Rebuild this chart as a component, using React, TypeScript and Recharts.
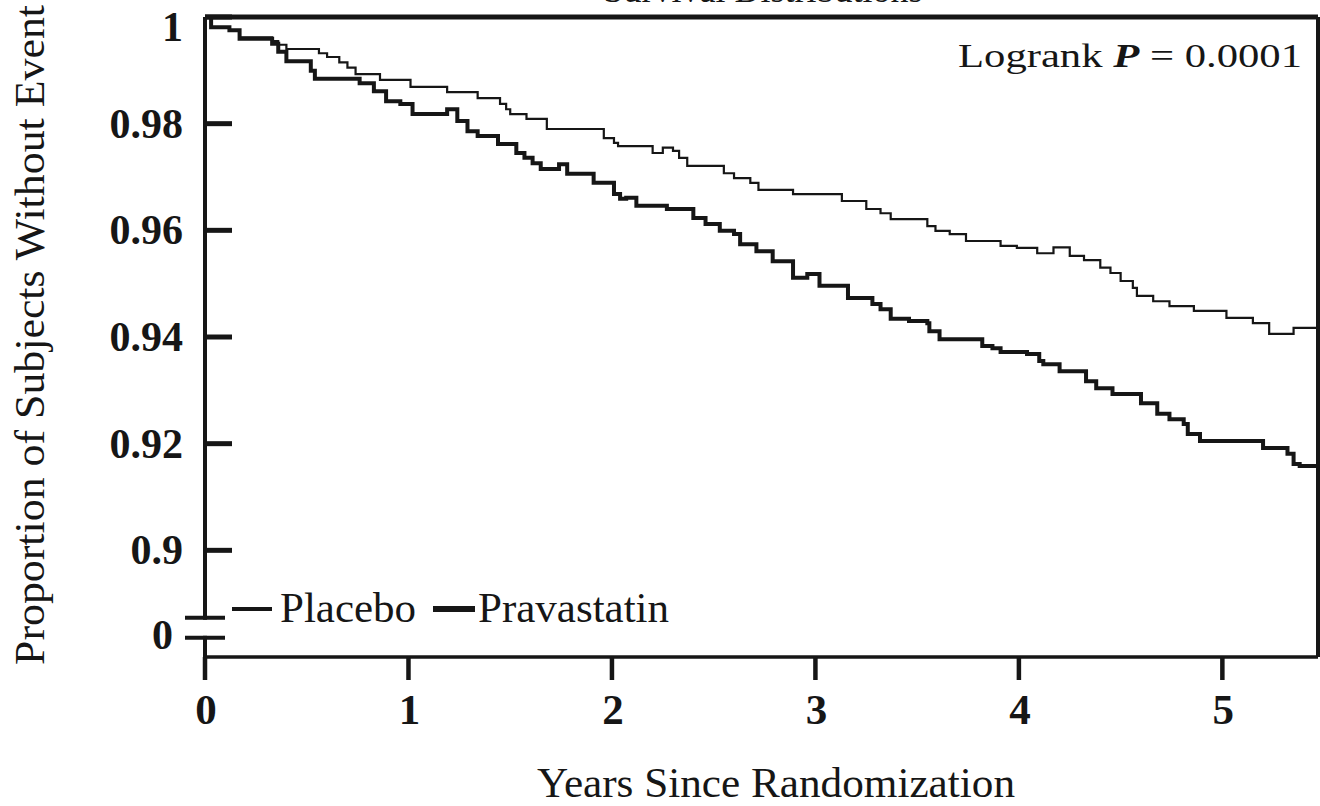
import React from 'react';
import { LineChart, Line, XAxis, YAxis, ReferenceLine, Legend } from 'recharts';

// ---- data (Kaplan-Meier step curves) ----
const placeboYears = [0, 0.03, 0.12, 0.17, 0.33, 0.36, 0.4, 0.56, 0.6, 0.66, 0.7, 0.74, 0.86, 1.01, 1.19, 1.34, 1.45, 1.48, 1.5, 1.58, 1.68, 1.96, 2.01, 2.03, 2.2, 2.25, 2.3, 2.33, 2.37, 2.55, 2.6, 2.68, 2.72, 2.89, 3.13, 3.25, 3.32, 3.37, 3.55, 3.59, 3.66, 3.74, 3.91, 3.99, 4.09, 4.17, 4.25, 4.32, 4.4, 4.45, 4.5, 4.56, 4.58, 4.66, 4.74, 4.86, 5.02, 5.15, 5.23, 5.35, 5.47];
const placeboSurvival = [1.0, 0.9981, 0.9975, 0.9962, 0.9955, 0.9948, 0.994, 0.9932, 0.9925, 0.9915, 0.9905, 0.9893, 0.9882, 0.9869, 0.9859, 0.9848, 0.9837, 0.9827, 0.9818, 0.9809, 0.979, 0.9773, 0.9764, 0.9758, 0.9745, 0.9755, 0.9749, 0.9736, 0.9721, 0.9707, 0.9698, 0.9689, 0.9676, 0.9668, 0.9655, 0.964, 0.9632, 0.9621, 0.9608, 0.9599, 0.9593, 0.958, 0.9571, 0.9567, 0.9557, 0.9568, 0.9552, 0.9544, 0.953, 0.952, 0.9505, 0.9492, 0.9477, 0.9467, 0.9458, 0.9449, 0.9436, 0.9426, 0.9406, 0.9417, 0.9417];

const pravastatinYears = [0, 0.03, 0.12, 0.17, 0.33, 0.36, 0.4, 0.52, 0.54, 0.76, 0.83, 0.89, 0.96, 1.02, 1.19, 1.24, 1.29, 1.34, 1.44, 1.53, 1.57, 1.61, 1.65, 1.74, 1.78, 1.91, 2.01, 2.04, 2.07, 2.12, 2.27, 2.4, 2.46, 2.53, 2.6, 2.63, 2.71, 2.79, 2.89, 2.96, 3.02, 3.16, 3.28, 3.32, 3.37, 3.46, 3.55, 3.56, 3.61, 3.82, 3.87, 3.91, 4.04, 4.1, 4.12, 4.2, 4.33, 4.38, 4.46, 4.6, 4.68, 4.74, 4.81, 4.83, 4.89, 5.2, 5.32, 5.35, 5.38, 5.47];
const pravastatinSurvival = [1.0, 0.9981, 0.9975, 0.9959, 0.995, 0.9935, 0.9917, 0.9899, 0.9884, 0.9876, 0.9861, 0.9842, 0.9837, 0.9818, 0.9827, 0.9805, 0.9786, 0.9777, 0.9762, 0.9745, 0.9736, 0.9726, 0.9715, 0.9724, 0.9706, 0.9689, 0.9668, 0.9659, 0.9661, 0.9646, 0.964, 0.9623, 0.9612, 0.9599, 0.9593, 0.9574, 0.9561, 0.9542, 0.9511, 0.9518, 0.9496, 0.9473, 0.9462, 0.9452, 0.9434, 0.943, 0.9426, 0.9411, 0.9396, 0.9383, 0.9379, 0.9372, 0.9368, 0.9355, 0.9349, 0.9336, 0.9317, 0.9304, 0.9293, 0.9276, 0.9256, 0.9246, 0.9237, 0.9218, 0.9205, 0.9192, 0.9181, 0.9162, 0.9158, 0.9158];

const xTicks = [0, 1, 2, 3, 4, 5];
// last tick is the broken-axis position where "0" is shown
const yTickValues = [1, 0.98, 0.96, 0.94, 0.92, 0.9, 0.8836];
const yTickLabels = ['1', '0.98', '0.96', '0.94', '0.92', '0.9', '0'];
const seriesNames = ['Placebo', 'Pravastatin'];
const chartTitle = 'Survival Distributions';
const xTitle = 'Years Since Randomization';
const yTitle = 'Proportion of Subjects Without Event';
const X_MAX = 5.47;
const Y_MIN = 0.88;
const Y_MAX = 1;

const placeboData = placeboYears.map((t, i) => ({ t, s: placeboSurvival[i] }));
const pravastatinData = pravastatinYears.map((t, i) => ({ t, s: pravastatinSurvival[i] }));

const FONT = '"Liberation Serif", "Times New Roman", serif';
const INK = '#161616';

function YTick(props: any) {
  const { x, y, payload } = props;
  const i = yTickValues.indexOf(payload.value);
  const label = i >= 0 ? yTickLabels[i] : String(payload.value);
  if (label === '0') {
    return (
      <g>
        <rect x={x - 4} y={y - 18} width={8} height={16} fill="#ffffff" />
        <line x1={x - 20} x2={x + 20} y1={y - 20} y2={y - 20} stroke={INK} strokeWidth={4} />
        <line x1={x - 20} x2={x + 20} y1={y} y2={y} stroke={INK} strokeWidth={4} />
        <text x={x - 32} y={y + 11} textAnchor="end" fontFamily={FONT} fontWeight="bold" fontSize={42} fill={INK}>
          {label}
        </text>
      </g>
    );
  }
  const baseline = i === 0 ? y + 24 : y + 14;
  return (
    <g>
      <line x1={x} x2={x + 27} y1={y} y2={y} stroke={INK} strokeWidth={5} />
      <text x={x - 22} y={baseline} textAnchor="end" fontFamily={FONT} fontWeight="bold" fontSize={42} fill={INK}>
        {label}
      </text>
    </g>
  );
}

function XTick(props: any) {
  const { x, y, payload } = props;
  return (
    <g>
      <line x1={x} x2={x} y1={y} y2={y + 23} stroke={INK} strokeWidth={4.5} />
      <text x={x + 1} y={y + 67} textAnchor="middle" fontFamily={FONT} fontWeight="bold" fontSize={43} fill={INK}>
        {String(payload.value)}
      </text>
    </g>
  );
}

function LegendContent() {
  return (
    <svg width={470} height={50} style={{ display: 'block' }}>
      <line x1={4} x2={44} y1={26} y2={26} stroke={INK} strokeWidth={4} />
      <text x={52} y={39} fontFamily={FONT} fontSize={43} fill={INK}>{seriesNames[0]}</text>
      <line x1={205} x2={247} y1={26} y2={26} stroke={INK} strokeWidth={6} />
      <text x={250} y={39} fontFamily={FONT} fontSize={43} fill={INK}>{seriesNames[1]}</text>
    </svg>
  );
}

export default function App() {
  return (
    <div style={{ position: 'absolute', left: 0, top: 0, width: 1320, height: 806, background: '#ffffff' }}>
      <LineChart width={1320} height={806} margin={{ top: 17, right: 2, bottom: 148, left: 204 }}>
        <XAxis
          type="number"
          dataKey="t"
          domain={[0, X_MAX]}
          ticks={xTicks}
          allowDataOverflow
          height={1}
          tickSize={0}
          tickMargin={0}
          tickLine={false}
          axisLine={{ stroke: INK, strokeWidth: 3.5 }}
          tick={<XTick />}
          interval={0}
        />
        <YAxis
          type="number"
          dataKey="s"
          domain={[Y_MIN, Y_MAX]}
          ticks={yTickValues}
          allowDataOverflow
          width={1}
          tickSize={0}
          tickMargin={0}
          tickLine={false}
          axisLine={{ stroke: INK, strokeWidth: 4 }}
          tick={<YTick />}
          interval={0}
        />
        <ReferenceLine y={Y_MAX} stroke={INK} strokeWidth={5} />
        <ReferenceLine x={X_MAX} stroke={INK} strokeWidth={4} />
        <Line
          data={placeboData}
          dataKey="s"
          name={seriesNames[0]}
          type="stepAfter"
          stroke={INK}
          strokeWidth={2.2}
          dot={false}
          activeDot={false}
          isAnimationActive={false}
        />
        <Line
          data={pravastatinData}
          dataKey="s"
          name={seriesNames[1]}
          type="stepAfter"
          stroke={INK}
          strokeWidth={4}
          dot={false}
          activeDot={false}
          isAnimationActive={false}
        />
        <Legend
          layout="horizontal"
          verticalAlign="middle"
          align="center"
          wrapperStyle={{ position: 'absolute', left: 228, top: 583, width: 470, height: 50 }}
          content={() => <LegendContent />}
        />
        <text x={763} y={1.5} textAnchor="middle" fontFamily={FONT} fontSize={36} fill={INK}>{chartTitle}</text>
        <text x={958} y={67} textLength={344} lengthAdjust="spacingAndGlyphs" fontFamily={FONT} fontSize={34} fill={INK}>
          Logrank <tspan fontWeight="bold" fontStyle="italic">P</tspan> = 0.0001
        </text>
        <text x={776} y={797} textAnchor="middle" textLength={478} lengthAdjust="spacingAndGlyphs" fontFamily={FONT} fontSize={43} fill={INK}>
          {xTitle}
        </text>
        <text
          x={0}
          y={0}
          transform="translate(44,335) rotate(-90)"
          textAnchor="middle"
          textLength={660}
          lengthAdjust="spacingAndGlyphs"
          fontFamily={FONT}
          fontSize={43}
          fill={INK}
        >
          {yTitle}
        </text>
      </LineChart>
    </div>
  );
}
